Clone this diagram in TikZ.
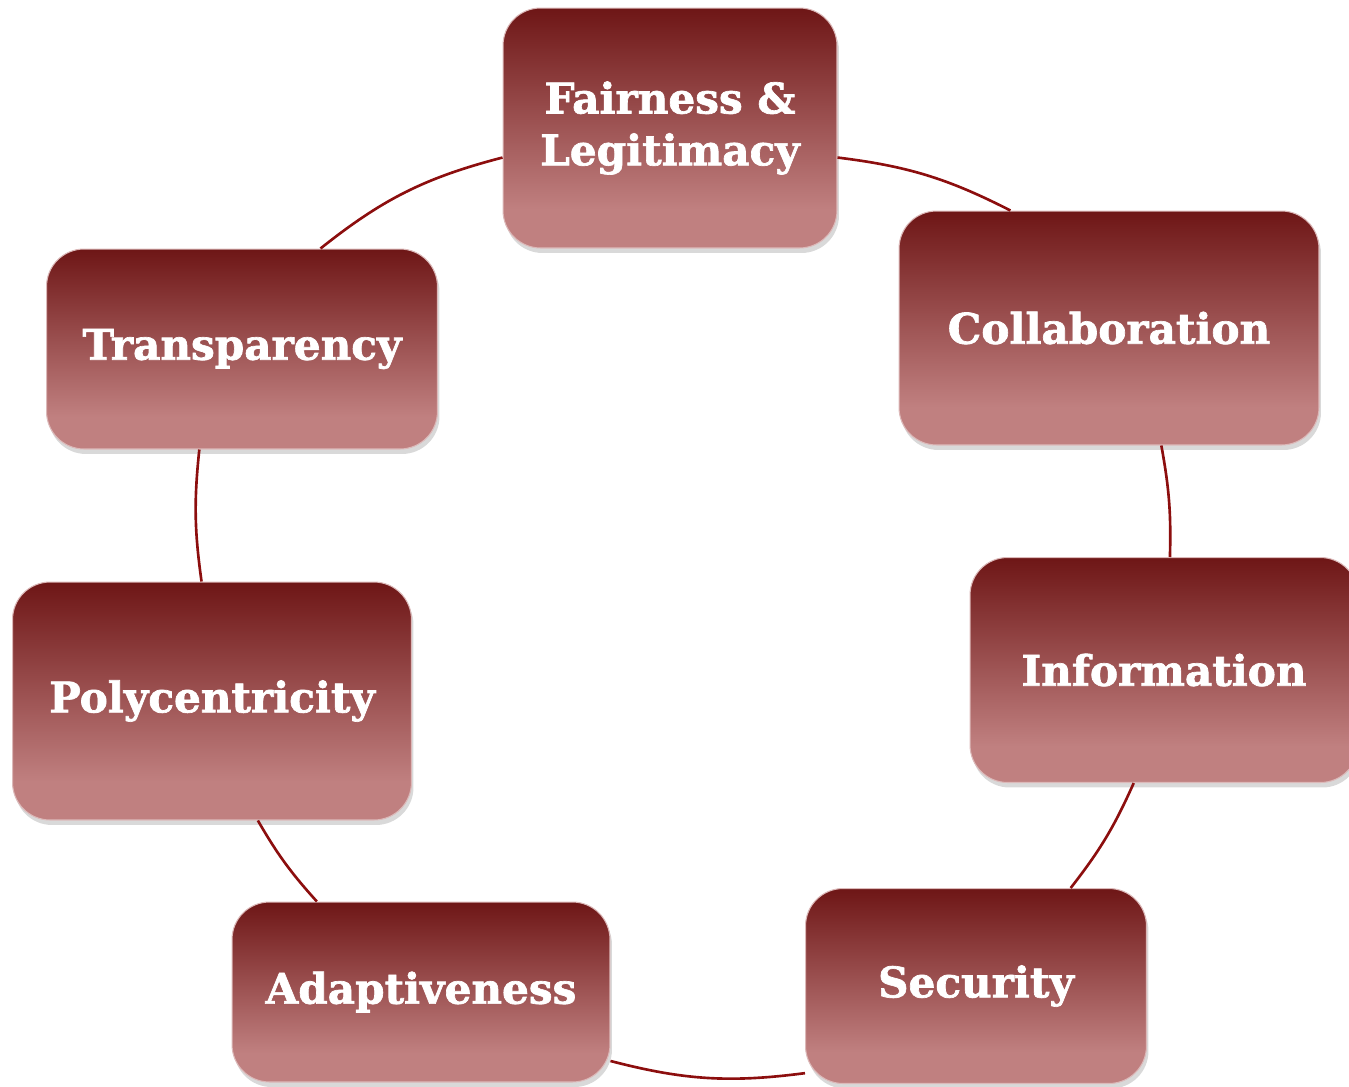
\documentclass[tikz,border=0pt]{standalone}
\usepackage{fontspec}
\setmainfont{DejaVu Serif}[BoldFeatures={FakeBold=1.6}]
\usepackage{tikz}
\usetikzlibrary{shadows}

\definecolor{boxdark}{RGB}{110,22,22}
\definecolor{boxlight}{RGB}{192,128,128}
\definecolor{linkred}{RGB}{140,14,14}
\pgfdeclareverticalshading{boxshade}{100bp}{color(0bp)=(boxlight); color(33bp)=(boxlight); color(75bp)=(boxdark); color(100bp)=(boxdark)}

\begin{document}
\begin{tikzpicture}[x=0.02cm, y=-0.02cm,
cyclenode/.style={rectangle, rounded corners=0.75cm, shading=boxshade, draw=boxlight!55!white, line width=0.6pt, drop shadow={opacity=0.3, shadow xshift=0.04cm, shadow yshift=-0.1cm}, text=white, font=\fontsize{24}{29.5}\selectfont\bfseries, align=center},
linkline/.style={draw=linkred, line width=1.5pt},
]
\useasboundingbox (0,0) rectangle (1349,1086);
%Nodes
\node[cyclenode, minimum width=6.68cm, minimum height=4.80cm] (fairness)      at (670,128)  {Fairness \&\\Legitimacy};
\node[cyclenode, minimum width=8.40cm, minimum height=4.68cm] (collaboration) at (1109,328) {Collaboration};
\node[cyclenode, minimum width=7.76cm, minimum height=4.50cm] (information)   at (1164,670) {Information};
\node[cyclenode, minimum width=6.82cm, minimum height=3.90cm] (security)      at (976,986)  {Security};
\node[cyclenode, minimum width=7.56cm, minimum height=3.60cm] (adaptiveness)  at (421,992)  {Adaptiveness};
\node[cyclenode, minimum width=7.98cm, minimum height=4.76cm] (polycentricity) at (212,701) {Polycentricity};
\node[cyclenode, minimum width=7.82cm, minimum height=4.00cm] (transparency)  at (242,349)  {Transparency};

%Lines
\draw[linkline] (fairness.350) to[bend left=10] (collaboration.130);
\draw[linkline] (collaboration.294) to[bend left=6] (information.87);
\draw[linkline] (information.255) to[bend left=7] (security.46);
\draw[linkline] (security.207) to[bend left=11] (adaptiveness.340);
\draw[linkline] (adaptiveness.139) to[bend left=6] (polycentricity.291);
\draw[linkline] (polycentricity.95) to[bend left=7] (transparency.247);
\draw[linkline] (transparency.52) to[bend left=12] (fairness.190);
\end{tikzpicture}
\end{document}
